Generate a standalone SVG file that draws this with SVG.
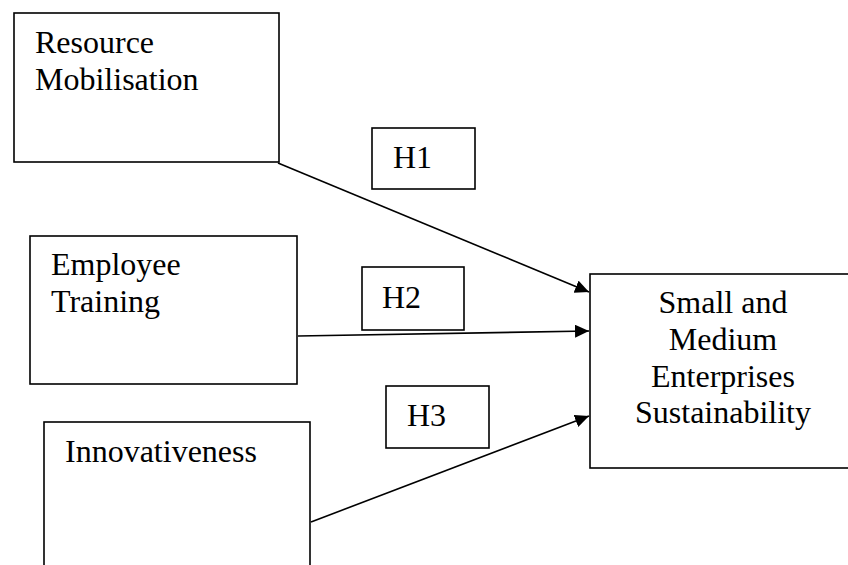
<svg xmlns="http://www.w3.org/2000/svg" width="848" height="565" viewBox="0 0 848 565">
<style>
.box{fill:#fff;stroke:#000;stroke-width:1.6}
.t{font-family:"Liberation Serif","Times New Roman",serif;font-size:32px;fill:#000}
.h{font-family:"Liberation Serif","Times New Roman",serif;font-size:32px;fill:#000}
.c{fill:none;stroke:#000;stroke-width:1.6}
</style>
<defs>
<marker id="ah" markerUnits="userSpaceOnUse" markerWidth="15" markerHeight="14" refX="14" refY="6.5" orient="auto">
<path d="M0,0 L14,6.5 L0,13 z" fill="#000"/>
</marker>
</defs>
<rect width="848" height="565" fill="#fff"/>
<g id="resource">
<rect class="box" x="14" y="13" width="265" height="149"/>
<text class="t" x="35" y="53">Resource</text>
<text class="t" x="35" y="90">Mobilisation</text>
</g>
<g id="training">
<rect class="box" x="30" y="236" width="267" height="148"/>
<text class="t" x="51" y="275">Employee</text>
<text class="t" x="51" y="312">Training</text>
</g>
<g id="innov">
<rect class="box" x="44" y="422" width="266" height="160"/>
<text class="t" x="65" y="462">Innovativeness</text>
</g>
<g id="sme">
<rect class="box" x="590" y="274" width="266" height="194"/>
<text class="t" x="723" y="313" text-anchor="middle">Small and</text>
<text class="t" x="723" y="350" text-anchor="middle">Medium</text>
<text class="t" x="723" y="387" text-anchor="middle">Enterprises</text>
<text class="t" x="723" y="423" text-anchor="middle">Sustainability</text>
</g>
<g id="h1">
<rect class="box" x="372" y="128" width="103" height="61"/>
<text class="h" x="393" y="168">H1</text>
</g>
<g id="h2">
<rect class="box" x="362" y="267" width="102" height="63"/>
<text class="h" x="382" y="308">H2</text>
</g>
<g id="h3">
<rect class="box" x="386" y="386" width="103" height="62"/>
<text class="h" x="407" y="426">H3</text>
</g>
<g id="connectors">
<line class="c" x1="278" y1="163" x2="589" y2="292" marker-end="url(#ah)"/>
<line class="c" x1="298" y1="336" x2="589" y2="331" marker-end="url(#ah)"/>
<line class="c" x1="311" y1="522" x2="589" y2="416" marker-end="url(#ah)"/>
</g>
</svg>
